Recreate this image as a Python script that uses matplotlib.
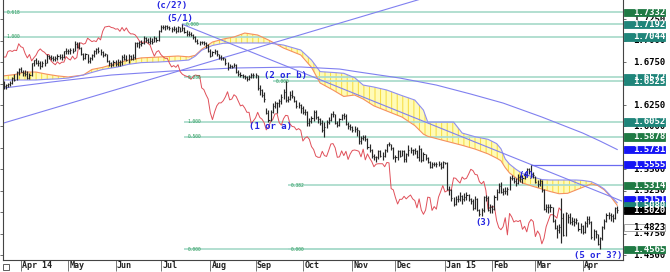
import matplotlib
matplotlib.use('Agg')
import matplotlib.pyplot as plt
from matplotlib.patches import Rectangle
import pandas as pd

# GBP/USD daily bars, 20 Mar 2014 .. 23 Apr 2015 (one line per week)
highs = [
    1.6530, 1.6500,
    1.6510, 1.6530, 1.6580, 1.6610, 1.6650,
    1.6680, 1.6690, 1.6660, 1.6660, 1.6650,
    1.6620, 1.6740, 1.6780, 1.6800, 1.6780,
    1.6760, 1.6760, 1.6790, 1.6840, 1.6830,
    1.6830, 1.6820, 1.6820, 1.6840, 1.6840,
    1.6850, 1.6880, 1.6910, 1.6900, 1.6920,
    1.6910, 1.6996, 1.6990, 1.6980, 1.6930,
    1.6860, 1.6860, 1.6850, 1.6810, 1.6850,
    1.6890, 1.6920, 1.6930, 1.6900, 1.6880,
    1.6860, 1.6850, 1.6780, 1.6750, 1.6780,
    1.6770, 1.6790, 1.6770, 1.6830, 1.6850,
    1.6830, 1.6840, 1.6830, 1.6840, 1.6990,
    1.6990, 1.7000, 1.7010, 1.7060, 1.7040,
    1.7030, 1.7040, 1.7030, 1.7050, 1.7040,
    1.7120, 1.7180, 1.7180, 1.7185, 1.7180,
    1.7170, 1.7160, 1.7170, 1.7160, 1.7170,
    1.7160, 1.7192, 1.7160, 1.7130, 1.7110,
    1.7100, 1.7080, 1.7060, 1.7020, 1.7000,
    1.7000, 1.7000, 1.6990, 1.6960, 1.6900,
    1.6880, 1.6900, 1.6890, 1.6850, 1.6830,
    1.6810, 1.6800, 1.6750, 1.6730, 1.6720,
    1.6740, 1.6730, 1.6660, 1.6640, 1.6610,
    1.6600, 1.6590, 1.6600, 1.6620, 1.6620,
    1.6620, 1.6600, 1.6480, 1.6440, 1.6400,
    1.6220, 1.6190, 1.6190, 1.6270, 1.6300,
    1.6290, 1.6320, 1.6380, 1.6440, 1.6525,
    1.6360, 1.6410, 1.6420, 1.6360, 1.6310,
    1.6280, 1.6260, 1.6240, 1.6200, 1.6180,
    1.6100, 1.6120, 1.6190, 1.6190, 1.6120,
    1.6100, 1.6070, 1.6050, 1.6080, 1.6110,
    1.6160, 1.6180, 1.6150, 1.6060, 1.6100,
    1.6150, 1.6160, 1.6150, 1.6050, 1.6030,
    1.6000, 1.6010, 1.5990, 1.5960, 1.5890,
    1.5900, 1.5900, 1.5870, 1.5790, 1.5740,
    1.5680, 1.5660, 1.5730, 1.5730, 1.5700,
    1.5740, 1.5800, 1.5820, 1.5790, 1.5760,
    1.5670, 1.5730, 1.5730, 1.5730, 1.5730,
    1.5690, 1.5785, 1.5760, 1.5740, 1.5750,
    1.5720, 1.5780, 1.5750, 1.5700, 1.5680,
    1.5640, 1.5600, 1.5580, 1.5580, 1.5590,
    1.5600, 1.5580, 1.5600, 1.5590, 1.5590,
    1.5300, 1.5270, 1.5180, 1.5190, 1.5200,
    1.5230, 1.5200, 1.5220, 1.5240, 1.5210,
    1.5170, 1.5150, 1.5190, 1.5170, 1.5040,
    1.5050, 1.5190, 1.5200, 1.5190, 1.5090,
    1.5080, 1.5200, 1.5270, 1.5340, 1.5350,
    1.5280, 1.5290, 1.5290, 1.5420, 1.5430,
    1.5410, 1.5400, 1.5450, 1.5430, 1.5430,
    1.5470, 1.5510, 1.5520, 1.5553, 1.5470,
    1.5420, 1.5370, 1.5390, 1.5370, 1.5270,
    1.5090, 1.5090, 1.5090, 1.5060, 1.4920,
    1.4850, 1.4860, 1.5165, 1.4990, 1.5000,
    1.4980, 1.4990, 1.4940, 1.4930, 1.4930,
    1.4890, 1.4870, 1.4850, 1.4900, 1.4950,
    1.4960, 1.4900, 1.4800, 1.4790, 1.4750,
    1.4710, 1.4840, 1.4920, 1.4990, 1.5000,
    1.4990, 1.4980, 1.5060, 1.5070,
]
lows = [
    1.6440, 1.6440,
    1.6460, 1.6470, 1.6500, 1.6530, 1.6540,
    1.6600, 1.6630, 1.6590, 1.6590, 1.6550,
    1.6550, 1.6590, 1.6710, 1.6730, 1.6700,
    1.6670, 1.6690, 1.6710, 1.6740, 1.6790,
    1.6770, 1.6760, 1.6760, 1.6780, 1.6790,
    1.6780, 1.6800, 1.6850, 1.6850, 1.6840,
    1.6860, 1.6880, 1.6920, 1.6900, 1.6830,
    1.6780, 1.6790, 1.6735, 1.6740, 1.6780,
    1.6810, 1.6850, 1.6860, 1.6830, 1.6810,
    1.6820, 1.6750, 1.6710, 1.6693, 1.6700,
    1.6710, 1.6710, 1.6710, 1.6720, 1.6770,
    1.6760, 1.6740, 1.6770, 1.6770, 1.6790,
    1.6930, 1.6920, 1.6940, 1.6960, 1.6980,
    1.6970, 1.6960, 1.6960, 1.6980, 1.6980,
    1.7000, 1.7100, 1.7140, 1.7130, 1.7140,
    1.7120, 1.7100, 1.7110, 1.7090, 1.7100,
    1.7100, 1.7110, 1.7090, 1.7060, 1.7050,
    1.7050, 1.7020, 1.6980, 1.6960, 1.6950,
    1.6960, 1.6950, 1.6920, 1.6870, 1.6810,
    1.6820, 1.6850, 1.6820, 1.6790, 1.6770,
    1.6770, 1.6720, 1.6660, 1.6680, 1.6680,
    1.6690, 1.6620, 1.6590, 1.6580, 1.6560,
    1.6550, 1.6530, 1.6540, 1.6560, 1.6570,
    1.6560, 1.6420, 1.6370, 1.6340, 1.6290,
    1.6140, 1.6052, 1.6060, 1.6160, 1.6210,
    1.6160, 1.6230, 1.6260, 1.6320, 1.6280,
    1.6290, 1.6310, 1.6330, 1.6280, 1.6220,
    1.6210, 1.6160, 1.6150, 1.6130, 1.6000,
    1.6000, 1.6040, 1.6060, 1.6090, 1.6040,
    1.6020, 1.5930, 1.5875, 1.5980, 1.6030,
    1.6060, 1.6110, 1.6030, 1.5990, 1.6000,
    1.6080, 1.6090, 1.6020, 1.5970, 1.5960,
    1.5930, 1.5940, 1.5890, 1.5790, 1.5790,
    1.5840, 1.5830, 1.5740, 1.5700, 1.5630,
    1.5610, 1.5590, 1.5620, 1.5640, 1.5610,
    1.5640, 1.5700, 1.5770, 1.5720, 1.5620,
    1.5590, 1.5610, 1.5640, 1.5650, 1.5590,
    1.5580, 1.5650, 1.5690, 1.5670, 1.5680,
    1.5630, 1.5600, 1.5590, 1.5600, 1.5610,
    1.5570, 1.5510, 1.5520, 1.5540, 1.5530,
    1.5540, 1.5500, 1.5520, 1.5560, 1.5260,
    1.5200, 1.5130, 1.5070, 1.5080, 1.5120,
    1.5130, 1.5090, 1.5130, 1.5140, 1.5130,
    1.5100, 1.5030, 1.5040, 1.5010, 1.4950,
    1.4960, 1.5000, 1.5130, 1.5010, 1.4990,
    1.4990, 1.5030, 1.5140, 1.5220, 1.5220,
    1.5200, 1.5210, 1.5200, 1.5260, 1.5370,
    1.5340, 1.5310, 1.5330, 1.5350, 1.5340,
    1.5390, 1.5420, 1.5450, 1.5410, 1.5400,
    1.5340, 1.5290, 1.5310, 1.5240, 1.5020,
    1.5000, 1.4990, 1.5000, 1.4880, 1.4800,
    1.4700, 1.4760, 1.4635, 1.4720, 1.4720,
    1.4870, 1.4860, 1.4850, 1.4840, 1.4860,
    1.4780, 1.4760, 1.4740, 1.4760, 1.4830,
    1.4860, 1.4690, 1.4680, 1.4700, 1.4620,
    1.4565, 1.4670, 1.4800, 1.4880, 1.4920,
    1.4900, 1.4880, 1.4920, 1.4990,
]
closes = [
    1.6475, 1.6480,
    1.6500, 1.6510, 1.6570, 1.6545, 1.6630,
    1.6665, 1.6640, 1.6625, 1.6610, 1.6565,
    1.6600, 1.6735, 1.6770, 1.6745, 1.6745,
    1.6710, 1.6745, 1.6745, 1.6820, 1.6805,
    1.6800, 1.6790, 1.6795, 1.6820, 1.6810,
    1.6810, 1.6875, 1.6885, 1.6875, 1.6890,
    1.6885, 1.6965, 1.6930, 1.6920, 1.6850,
    1.6800, 1.6840, 1.6765, 1.6800, 1.6830,
    1.6880, 1.6905, 1.6880, 1.6865, 1.6835,
    1.6840, 1.6765, 1.6740, 1.6720, 1.6755,
    1.6730, 1.6750, 1.6750, 1.6815, 1.6790,
    1.6775, 1.6820, 1.6785, 1.6805, 1.6970,
    1.6975, 1.6960, 1.6970, 1.7030, 1.7010,
    1.6990, 1.7000, 1.6990, 1.7035, 1.7010,
    1.7110, 1.7160, 1.7165, 1.7170, 1.7155,
    1.7150, 1.7135, 1.7140, 1.7110, 1.7155,
    1.7115, 1.7150, 1.7105, 1.7080, 1.7080,
    1.7070, 1.7040, 1.7000, 1.6975, 1.6985,
    1.6985, 1.6970, 1.6950, 1.6880, 1.6820,
    1.6870, 1.6885, 1.6840, 1.6815, 1.6795,
    1.6795, 1.6740, 1.6695, 1.6710, 1.6690,
    1.6720, 1.6640, 1.6610, 1.6595, 1.6585,
    1.6580, 1.6550, 1.6580, 1.6600, 1.6595,
    1.6595, 1.6450, 1.6430, 1.6370, 1.6320,
    1.6160, 1.6080, 1.6170, 1.6240, 1.6275,
    1.6275, 1.6300, 1.6345, 1.6405, 1.6310,
    1.6320, 1.6370, 1.6350, 1.6295, 1.6240,
    1.6250, 1.6215, 1.6165, 1.6165, 1.6035,
    1.6065, 1.6100, 1.6165, 1.6105, 1.6085,
    1.6045, 1.5960, 1.5995, 1.6055, 1.6080,
    1.6145, 1.6150, 1.6045, 1.6015, 1.6090,
    1.6130, 1.6125, 1.6030, 1.6000, 1.5995,
    1.5960, 1.5975, 1.5955, 1.5830, 1.5865,
    1.5880, 1.5850, 1.5765, 1.5730, 1.5655,
    1.5640, 1.5640, 1.5710, 1.5660, 1.5650,
    1.5720, 1.5795, 1.5800, 1.5750, 1.5640,
    1.5645, 1.5715, 1.5660, 1.5710, 1.5615,
    1.5680, 1.5720, 1.5725, 1.5720, 1.5710,
    1.5645, 1.5735, 1.5610, 1.5680, 1.5630,
    1.5590, 1.5530, 1.5560, 1.5565, 1.5565,
    1.5565, 1.5530, 1.5580, 1.5575, 1.5275,
    1.5260, 1.5170, 1.5095, 1.5150, 1.5150,
    1.5185, 1.5155, 1.5180, 1.5200, 1.5155,
    1.5135, 1.5050, 1.5155, 1.5025, 1.4975,
    1.5025, 1.5175, 1.5170, 1.5020, 1.5065,
    1.5035, 1.5175, 1.5240, 1.5310, 1.5235,
    1.5250, 1.5250, 1.5265, 1.5400, 1.5395,
    1.5365, 1.5340, 1.5410, 1.5385, 1.5395,
    1.5445, 1.5500, 1.5485, 1.5440, 1.5435,
    1.5355, 1.5330, 1.5360, 1.5255, 1.5035,
    1.5055, 1.5065, 1.5060, 1.4900, 1.4820,
    1.4795, 1.4830, 1.4935, 1.4735, 1.4985,
    1.4945, 1.4885, 1.4900, 1.4890, 1.4905,
    1.4800, 1.4835, 1.4770, 1.4875, 1.4915,
    1.4890, 1.4715, 1.4780, 1.4740, 1.4630,
    1.4695, 1.4830, 1.4900, 1.4970, 1.4970,
    1.4955, 1.4930, 1.5050, 1.5020,
]

# ichimoku cloud edges (bar index, span A, span B)
cloud_idx = [0, 5, 10, 15, 20, 25, 30, 37, 41, 46, 53, 58, 64, 72, 81, 86, 89, 92, 97,
             102, 107, 112, 118, 123, 130, 138, 143, 147, 153, 158, 163, 167, 172, 178,
             185, 191, 195, 197, 203, 209, 213, 219, 225, 229, 231, 233, 235, 238, 241,
             246, 250, 254, 258, 262, 266, 269, 273, 276, 279, 282, 285]
span_a = [1.6590, 1.6605, 1.6635, 1.6635, 1.6610, 1.6590, 1.6577, 1.6600, 1.6665, 1.6690,
          1.6740, 1.6775, 1.6800, 1.6810, 1.6822, 1.6812, 1.6830, 1.6900, 1.6985, 1.7020,
          1.7044, 1.7090, 1.7067, 1.7009, 1.6915, 1.6834, 1.6690, 1.6507, 1.6425, 1.6350,
          1.6367, 1.6320, 1.6240, 1.6180, 1.6110, 1.6010, 1.5910, 1.5885, 1.5845, 1.5806,
          1.5780, 1.5736, 1.5680, 1.5630, 1.5600, 1.5520, 1.5457, 1.5400, 1.5340, 1.5300,
          1.5270, 1.5240, 1.5215, 1.5220, 1.5260, 1.5290, 1.5330, 1.5310, 1.5260, 1.5180,
          1.5080]
span_b = [1.6542, 1.6542, 1.6542, 1.6542, 1.6550, 1.6555, 1.6565, 1.6600, 1.6630, 1.6665,
          1.6694, 1.6725, 1.6745, 1.6752, 1.6765, 1.6775, 1.6820, 1.6890, 1.6945, 1.6970,
          1.6974, 1.6974, 1.6974, 1.6974, 1.6950, 1.6892, 1.6775, 1.6640, 1.6630, 1.6620,
          1.6570, 1.6483, 1.6460, 1.6425, 1.6360, 1.6308, 1.6191, 1.6051, 1.6051, 1.6051,
          1.5923, 1.5880, 1.5850, 1.5800, 1.5740, 1.5620, 1.5560, 1.5500, 1.5450, 1.5410,
          1.5380, 1.5375, 1.5375, 1.5375, 1.5375, 1.5370, 1.5355, 1.5320, 1.5270, 1.5190,
          1.5110]

# long moving average (blue curve)
ma_idx = [0, 22, 50, 78, 107, 138, 156, 165, 184, 201, 217, 232, 250, 269, 277, 285]
ma_val = [1.6448, 1.6518, 1.6600, 1.6647, 1.6682, 1.6694, 1.6670, 1.6635, 1.6565,
          1.6483, 1.6378, 1.6273, 1.6110, 1.5923, 1.5830, 1.5731]

# trend lines (bar index, price)
trend_up = ([0, 210], [1.6040, 1.7608])
trend_down = ([83, 287], [1.7192, 1.5131])
resist_idx, resist_val = 245, 1.5555

# fibonacci level lines: (start bar, level, tag)
fib_lines = [(0, 1.7332, '0.618'), (0, 1.7044, '1.000'), (83, 1.7192, '0.000'),
             (84, 1.6572, '0.236'), (84, 1.6052, '1.000'), (84, 1.5878, '0.500'),
             (84, 1.4565, '0.000'), (125, 1.6525, '0.000'), (132, 1.5314, '0.382'),
             (132, 1.4565, '0.000')]

# wave labels
waves = [(78, 1.7410, '(c/2?)'), (82, 1.7260, '(5/1)'), (131, 1.6600, '(2 or b)'),
         (124, 1.6000, '(1 or a)'), (243, 1.5425, '(4)'), (223, 1.4880, '(3)'),
         (276, 1.4500, '(5 or 3?)')]

# price boxes on the right scale
boxes = [(1.7332, '#1f7a44', 'white'), (1.7192, '#1f857a', 'white'),
         (1.7044, '#1f857a', 'white'), (1.6572, '#1f857a', 'white'),
         (1.6525, '#1f857a', 'white'), (1.6052, '#1f857a', 'white'),
         (1.5878, '#1f7a44', 'white'), (1.5731, '#1515f5', 'white'),
         (1.5555, '#1515f5', 'white'), (1.5314, '#1f7a44', 'white'),
         (1.5151, '#1515f5', 'white'), (1.5080, '#1f857a', 'white'),
         (1.5020, '#000000', 'white'), (1.4823, '#ffffff', 'black'),
         (1.4565, '#1f7a44', 'white')]
scale_levels = [1.7250, 1.7000, 1.6750, 1.6500, 1.6250, 1.6000, 1.5750,
                1.5500, 1.5250, 1.5000, 1.4750, 1.4500]
scale_shown = [1.7250, 1.7000, 1.6750, 1.6250, 1.6000, 1.5500, 1.5250, 1.4750, 1.4500]

month_names = ['Apr 14', 'May', 'Jun', 'Jul', 'Aug', 'Sep', 'Oct', 'Nov', 'Dec',
               'Jan 15', 'Feb', 'Mar', 'Apr']

dates = pd.bdate_range('2014-03-20', periods=len(closes))
idx = list(range(len(closes)))
months = dates.to_period('M')
month_pos = [i for i in range(1, len(dates)) if months[i] != months[i - 1]]

plt.rcParams['hatch.linewidth'] = 0.7
mono = 'DejaVu Sans Mono'

fig = plt.figure(figsize=(6.70, 2.72), dpi=100)
ax = fig.add_axes([3 / 670, 12 / 272, 620 / 670, 260 / 272])
ax.set_xlim(-0.3, 287.7)
ax.set_ylim(1.44417, 1.74755)

# cloud
ax.fill_between(cloud_idx, span_a, span_b, facecolor='#fffbb8', edgecolor='#f7dc3c',
                hatch='|||', linewidth=0, zorder=1)
ax.plot(cloud_idx, span_a, color='#f59060', lw=0.8, zorder=2)
ax.plot(cloud_idx, span_b, color='#8e8ef2', lw=0.8, zorder=2)

# fibonacci lines
for start, lvl, tag in fib_lines:
    ax.hlines(lvl, start, 287.7, color='#acdccd', lw=1.3, zorder=1.5)
    ax.text(start + 1.5, lvl, tag, fontsize=3.3, color='#2a9a5a', va='center',
            ha='left', family=mono, zorder=3)

# blue lines
ax.plot(ma_idx, ma_val, color='#8080f0', lw=0.8, zorder=2)
ax.plot(trend_up[0], trend_up[1], color='#8080f0', lw=0.8, zorder=2)
ax.plot(trend_down[0], trend_down[1], color='#8080f0', lw=0.8, zorder=2)
ax.hlines(resist_val, resist_idx, 287.7, color='#6a6af0', lw=0.9, zorder=2)

# lagging span (close shifted back 26 bars)
ax.plot(idx[:-26], closes[26:], color='#e0505a', lw=0.7, zorder=2.5)

# price bars
ax.vlines(idx, lows, highs, color='#262626', lw=0.85, zorder=3)
ax.hlines(closes, idx, [i + 0.5 for i in idx], color='#262626', lw=0.8, zorder=3)

for x, y, t in waves:
    ax.text(x, y, t, fontsize=6.5, color='#2424e0', family=mono, fontweight='bold',
            ha='center', va='center', zorder=4)

# right price scale
trans = ax.get_yaxis_transform()
for lvl in scale_shown:
    ax.text(1.069, lvl, '%.4f' % lvl, transform=trans, ha='right', va='center',
            fontsize=6.5, family=mono, fontweight='bold', color='black', clip_on=False)
for lvl, fc, tc in boxes:
    ax.add_patch(Rectangle((1.002, lvl - 0.0042), 0.066, 0.0084, transform=trans,
                           facecolor=fc, edgecolor='#999999' if fc == '#ffffff' else fc,
                           lw=0.6, clip_on=False, zorder=5))
    ax.text(1.069, lvl, '%.4f' % lvl, transform=trans, ha='right', va='center',
            fontsize=6.5, family=mono, fontweight='bold', color=tc, clip_on=False,
            zorder=6)

# month axis
xtrans = ax.get_xaxis_transform()
for pos, name in zip(month_pos, month_names):
    ax.text(pos + 0.6, -0.022, name, transform=xtrans, ha='left', va='center',
            fontsize=6, family=mono, fontweight='bold', color='#222222', clip_on=False)
ax.set_xticks(month_pos)
ax.tick_params(axis='x', direction='out', length=8, width=0.7, color='#777777',
               labelbottom=False)
ax.set_yticks(scale_levels)
ax.tick_params(axis='y', which='both', left=True, right=True, labelleft=False,
               labelright=False, direction='out', length=2.5, width=0.6, color='#555555')
ax.add_patch(Rectangle((-0.5 / 620, -0.04), 6 / 620, 0.026, transform=ax.transAxes,
                       facecolor='white', edgecolor='#444444', lw=0.6, clip_on=False))

for side in ['left', 'right', 'bottom']:
    ax.spines[side].set_color('#444444')
    ax.spines[side].set_linewidth(0.8)
ax.spines['top'].set_visible(False)

fig.savefig('out.png', dpi=100)
